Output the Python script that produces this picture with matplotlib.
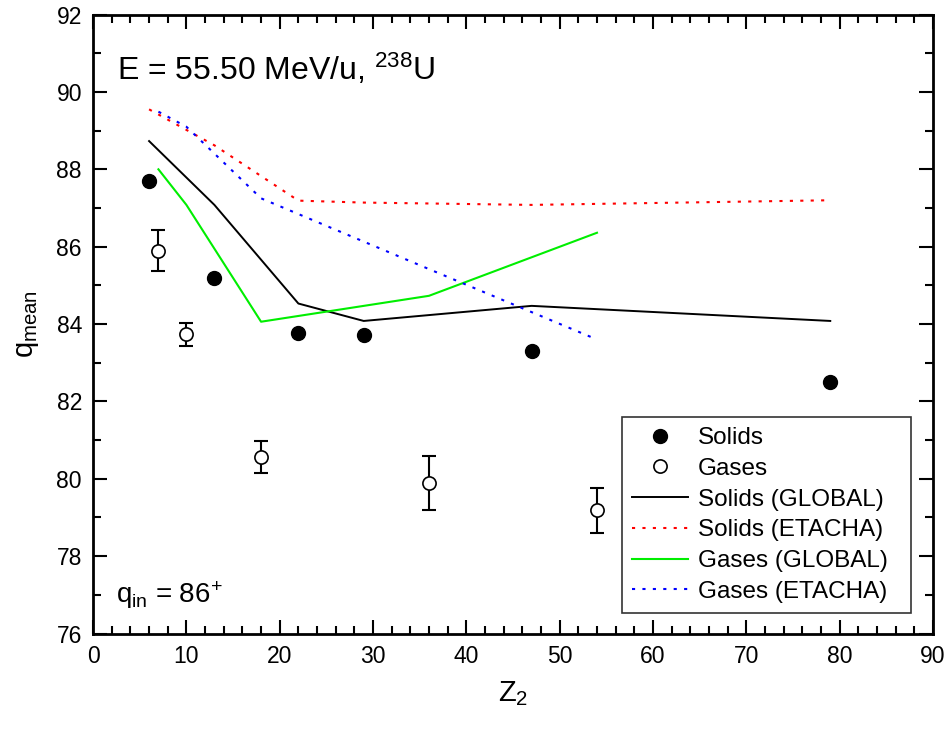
import matplotlib.pyplot as plt
from matplotlib.ticker import MultipleLocator

plt.rcParams['font.family'] = ['Liberation Sans', 'DejaVu Sans']
plt.rcParams['mathtext.fontset'] = 'custom'
plt.rcParams['mathtext.rm'] = 'Liberation Sans'
plt.rcParams['mathtext.it'] = 'Liberation Sans'

# measured mean charge states
solids_z = [6, 13, 22, 29, 47, 79]
solids_q = [87.7, 85.18, 83.78, 83.72, 83.3, 82.5]

gases_z = [7, 10, 18, 36, 54]
gases_q = [85.9, 83.73, 80.56, 79.9, 79.18]
gases_err = [0.52, 0.29, 0.42, 0.70, 0.58]

# calculations
solids_global = [88.73, 87.08, 84.53, 84.08, 84.47, 84.08]
solids_etacha = [89.55, 88.62, 87.19, 87.14, 87.08, 87.2]
gases_global = [88.0, 87.08, 84.06, 84.73, 86.36]
gases_etacha = [89.49, 89.1, 87.25, 85.42, 83.6]

fig = plt.figure(figsize=(9.5, 7.29), dpi=100)
ax = fig.add_axes([0.098, 0.131, 0.884, 0.849])

dots = (0, (1.5, 3.5))
ax.plot(solids_z, solids_global, color='black', lw=1.4, label='Solids (GLOBAL)')
ax.plot(solids_z, solids_etacha, color='red', lw=1.5, ls=dots, label='Solids (ETACHA)')
ax.plot(gases_z, gases_global, color='#00ee00', lw=1.5, label='Gases (GLOBAL)')
ax.plot(gases_z, gases_etacha, color='blue', lw=1.5, ls=dots, label='Gases (ETACHA)')

ax.plot(solids_z, solids_q, 'o', color='black', ms=10, ls='none', label='Solids', zorder=5)
ax.errorbar(gases_z, gases_q, yerr=gases_err, fmt='none', ecolor='black',
            elinewidth=1.5, capsize=5, capthick=1.5, zorder=5)
ax.plot(gases_z, gases_q, 'o', ms=9.5, mfc='white', mec='black', mew=1.2,
        ls='none', label='Gases', zorder=6)

ax.set_xlim(0, 90)
ax.set_ylim(76, 92)
ax.xaxis.set_major_locator(MultipleLocator(10))
ax.xaxis.set_minor_locator(MultipleLocator(2))
ax.yaxis.set_major_locator(MultipleLocator(2))
ax.yaxis.set_minor_locator(MultipleLocator(1))
ax.tick_params(which='both', direction='in', top=True, right=True,
               labelsize=16.5, width=1.5, pad=8)
ax.tick_params(which='major', length=10)
ax.tick_params(which='minor', length=5.5)
for s in ax.spines.values():
    s.set_linewidth(2)

ax.set_xlabel('$Z_2$', fontsize=21, labelpad=8)
ax.set_ylabel('$q_{mean}$', fontsize=21, labelpad=11)

ax.text(0.029, 0.895, 'E = 55.50 MeV/u, $^{238}$U', transform=ax.transAxes, fontsize=23)
ax.text(0.027, 0.05, '$q_{in}$ = 86$^{+}$', transform=ax.transAxes, fontsize=20)

h, l = ax.get_legend_handles_labels()
order = [4, 5, 0, 1, 2, 3]
leg = ax.legend([h[i] for i in order], [l[i] for i in order],
                loc='upper left', bbox_to_anchor=(0.630, 0.0, 0.344, 0.350),
                mode='expand', borderaxespad=0,
                fontsize=17.5, frameon=True, fancybox=False, edgecolor='black',
                handlelength=2.3, handletextpad=0.4, labelspacing=0.36,
                borderpad=0.42)
leg.get_frame().set_linewidth(1.2)

fig.savefig('out.png', dpi=100)
